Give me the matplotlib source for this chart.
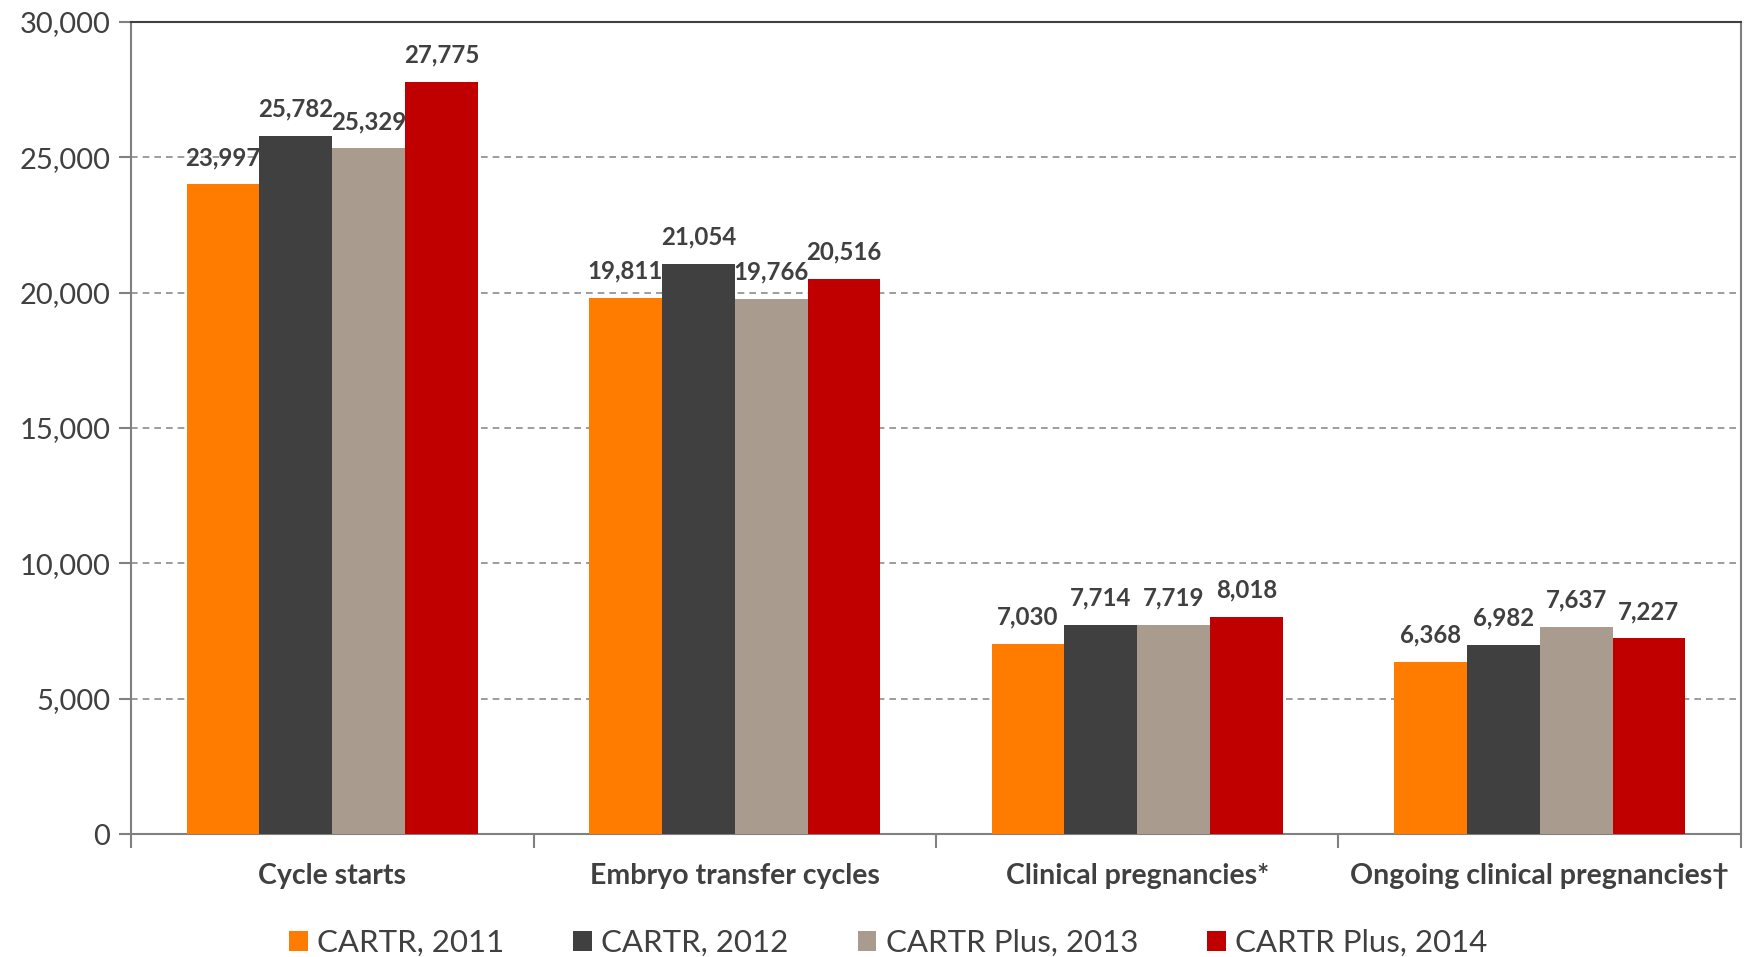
import numpy as np
import matplotlib
matplotlib.use("Agg")
import matplotlib.pyplot as plt
from matplotlib.ticker import FuncFormatter

categories = ["Cycle starts", "Embryo transfer cycles", "Clinical pregnancies*", "Ongoing clinical pregnancies\u2020"]
series_names = ["CARTR, 2011", "CARTR, 2012", "CARTR Plus, 2013", "CARTR Plus, 2014"]
v2011 = [23997, 19811, 7030, 6368]
v2012 = [25782, 21054, 7714, 6982]
v2013 = [25329, 19766, 7719, 7637]
v2014 = [27775, 20516, 8018, 7227]
colors = ["#FF7C00", "#404040", "#A99C8F", "#C00000"]

plt.rcParams["font.family"] = ["Lato", "DejaVu Sans"]

fig = plt.figure(figsize=(17.52, 9.57), dpi=100)
ax = fig.add_axes([0.0748, 0.1285, 0.9189, 0.8485])

x = np.arange(len(categories))
w = 0.181
all_vals = [v2011, v2012, v2013, v2014]
for i, vals in enumerate(all_vals):
    pos = x + (i - 1.5) * w
    ax.bar(pos, vals, width=w, color=colors[i], label=series_names[i], zorder=3)
    for p, v in zip(pos, vals):
        ax.text(p, v + 570, f"{v:,}", ha="center", va="bottom", fontsize=17.3,
                fontweight="bold", color="#404040", zorder=4)

ax.set_xlim(-0.5, len(categories) - 0.5)
ax.set_ylim(0, 30000)
ax.set_yticks(range(0, 30001, 5000))
ax.yaxis.set_major_formatter(FuncFormatter(lambda v, p: f"{int(v):,}"))
ax.yaxis.grid(True, linestyle=(0, (4, 3)), color="#8C8C8C", linewidth=1.2, zorder=0)

ax.set_xticks(np.arange(-0.5, len(categories), 1.0))
ax.set_xticklabels([])
ax.set_xticks(x, minor=True)
ax.set_xticklabels(categories, minor=True, fontsize=20.5, fontweight="bold", color="#404040")
ax.tick_params(axis="x", which="minor", length=0, pad=21)
ax.tick_params(axis="x", which="major", length=10, width=1.5, color="#808080", direction="out")
ax.tick_params(axis="y", length=9, width=1.5, color="#808080", labelsize=21, labelcolor="#404040", pad=6)

for s in ["left", "bottom", "right"]:
    ax.spines[s].set_color("#808080")
    ax.spines[s].set_linewidth(1.5)
ax.spines["top"].set_color("#404040")
ax.spines["top"].set_linewidth(1.5)

fig.legend(loc="lower center", bbox_to_anchor=(0.507, -0.029), ncol=4, frameon=False,
           fontsize=22.5, handlelength=0.6, handleheight=0.6, columnspacing=2.2,
           handletextpad=0.3, labelcolor="#404040")

fig.savefig("out.png", dpi=100)
